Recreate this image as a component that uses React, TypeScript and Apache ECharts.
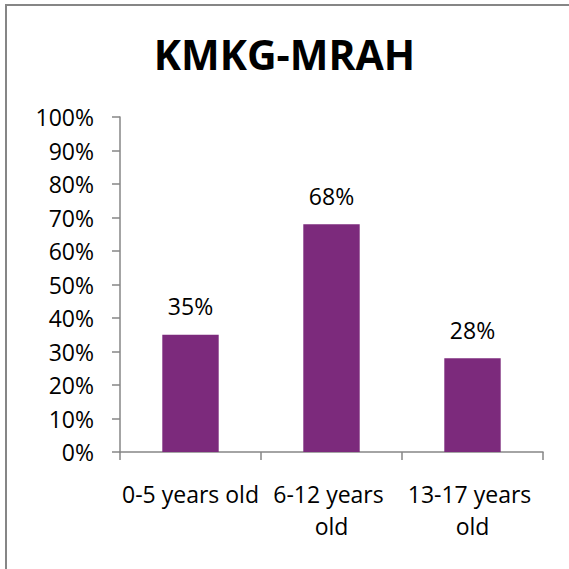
import React, { useEffect, useRef } from "react";
import * as echarts from "echarts";

const categories = ["0-5 years old", "6-12 years old", "13-17 years old"];
const values = [35, 68, 28];
const yTicks = { min: 0, max: 100, interval: 10 };
const title = "KMKG-MRAH";

const FONT = "'Open Sans', 'Noto Sans', sans-serif";
const AXIS_COLOR = "#868686";
const BAR_COLOR = "#7C2A7C";

export default function App() {
  const ref = useRef<HTMLDivElement | null>(null);

  useEffect(() => {
    if (!ref.current) return;
    const chart = echarts.init(ref.current, undefined, { renderer: "svg" });
    chart.setOption({
      animation: false,
      backgroundColor: "#ffffff",
      title: {
        text: title,
        left: "center",
        top: 28,
        textStyle: {
          fontFamily: FONT,
          fontWeight: "bold",
          fontSize: 41,
          color: "#000000",
        },
      },
      graphic: [
        {
          type: "line",
          shape: { x1: 5, y1: 5, x2: 569, y2: 5 },
          style: { stroke: AXIS_COLOR, lineWidth: 2 },
          silent: true,
        },
        {
          type: "line",
          shape: { x1: 6, y1: 4, x2: 6, y2: 569 },
          style: { stroke: AXIS_COLOR, lineWidth: 2 },
          silent: true,
        },
      ],
      grid: { left: 120, right: 26, top: 117, bottom: 117, containLabel: false },
      xAxis: {
        type: "category",
        data: categories,
        axisLine: { show: true, lineStyle: { color: AXIS_COLOR, width: 1.5 } },
        axisTick: { show: true, length: 8, lineStyle: { color: AXIS_COLOR, width: 1.5 } },
        axisLabel: {
          interval: 0,
          margin: 26,
          fontFamily: FONT,
          fontSize: 23,
          color: "#000000",
          lineHeight: 32,
          width: 140,
          overflow: "break",
        },
        splitLine: { show: false },
      },
      yAxis: {
        type: "value",
        min: yTicks.min,
        max: yTicks.max,
        interval: yTicks.interval,
        axisLine: { show: true, lineStyle: { color: AXIS_COLOR, width: 1.5 } },
        axisTick: { show: true, length: 8, lineStyle: { color: AXIS_COLOR, width: 1.5 } },
        axisLabel: {
          formatter: "{value}%",
          margin: 26,
          fontFamily: FONT,
          fontSize: 23,
          color: "#000000",
        },
        splitLine: { show: false },
      },
      series: [
        {
          type: "bar",
          data: values,
          barWidth: "40%",
          itemStyle: { color: BAR_COLOR },
          label: {
            show: true,
            position: "top",
            distance: 17,
            formatter: "{c}%",
            fontFamily: FONT,
            fontSize: 23,
            color: "#000000",
          },
        },
      ],
    });
    return () => chart.dispose();
  }, []);

  return (
    <div
      ref={ref}
      style={{ position: "fixed", left: 0, top: 0, width: 569, height: 569 }}
    />
  );
}
